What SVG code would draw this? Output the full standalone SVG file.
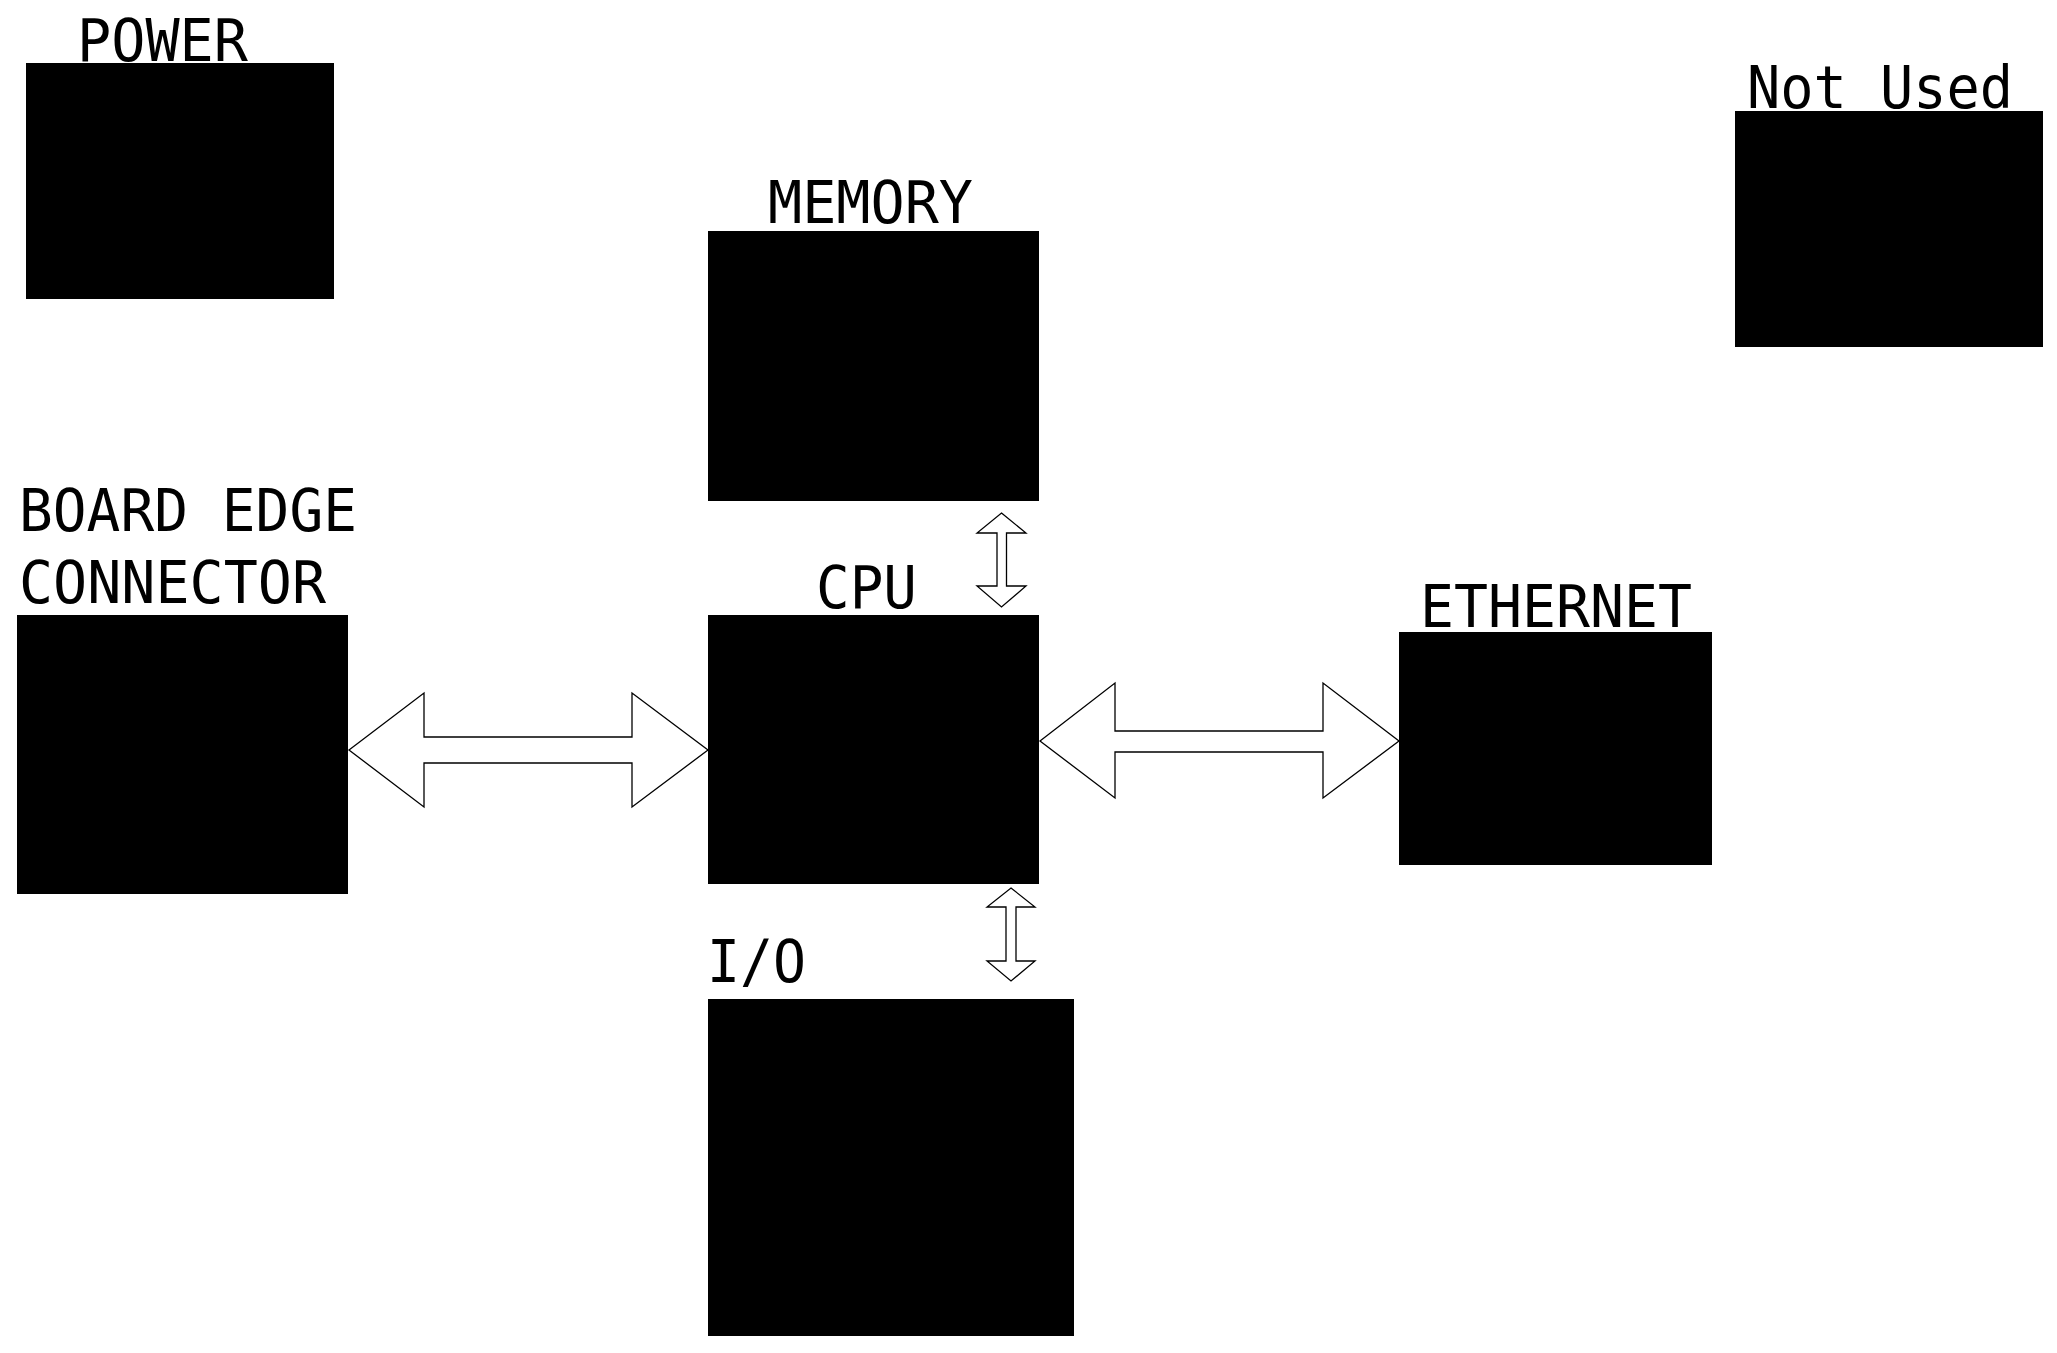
<svg xmlns="http://www.w3.org/2000/svg" width="2057" height="1353" viewBox="0 0 2057 1353">
<style>
.box{fill:#000;stroke:none}
.lbl{font-family:"DejaVu Sans Mono","Liberation Mono",monospace;font-size:59px;fill:#000}
.arw{fill:#fff;stroke:#000;stroke-width:1.3;stroke-linejoin:miter}
</style>
<rect x="0" y="0" width="2057" height="1353" fill="#fff"/>
<g id="power">
<rect class="box" x="26" y="63" width="308" height="236"/>
<text class="lbl" x="77" y="61" textLength="171" lengthAdjust="spacingAndGlyphs">POWER</text>
</g>
<g id="not-used">
<rect class="box" x="1735" y="111" width="308" height="236"/>
<text class="lbl" x="1747" y="108" textLength="266" lengthAdjust="spacingAndGlyphs">Not Used</text>
</g>
<g id="memory">
<rect class="box" x="708" y="231" width="331" height="270"/>
<text class="lbl" x="768" y="223" textLength="205" lengthAdjust="spacingAndGlyphs">MEMORY</text>
</g>
<g id="cpu">
<rect class="box" x="708" y="615" width="331" height="269"/>
<text class="lbl" x="816" y="608" textLength="101" lengthAdjust="spacingAndGlyphs">CPU</text>
</g>
<g id="board-edge-connector">
<rect class="box" x="17" y="615" width="331" height="279"/>
<text class="lbl" x="19" y="531" textLength="338" lengthAdjust="spacingAndGlyphs">BOARD EDGE</text>
<text class="lbl" x="19" y="603" textLength="307" lengthAdjust="spacingAndGlyphs">CONNECTOR</text>
</g>
<g id="ethernet">
<rect class="box" x="1399" y="632" width="313" height="233"/>
<text class="lbl" x="1420" y="627" textLength="272" lengthAdjust="spacingAndGlyphs">ETHERNET</text>
</g>
<g id="io">
<rect class="box" x="708" y="999" width="366" height="337"/>
<text class="lbl" x="707" y="982" textLength="99" lengthAdjust="spacingAndGlyphs">I/O</text>
</g>
<g id="connectors">
<polygon class="arw" points="349,750 424,693 424,737 632,737 632,693 708,750 632,807 632,763 424,763 424,807"/>
<polygon class="arw" points="1040,741 1115,683 1115,731 1323,731 1323,683 1399,741 1323,798 1323,752 1115,752 1115,798"/>
<polygon class="arw" points="1001.5,513 1026,533 1006.5,533 1006.5,586 1026,586 1001.5,607 977,586 997,586 997,533 977,533"/>
<polygon class="arw" points="1011,888 1035,907 1016,907 1016,961 1035,961 1011,981 987,961 1006,961 1006,907 987,907"/>
</g>
</svg>
